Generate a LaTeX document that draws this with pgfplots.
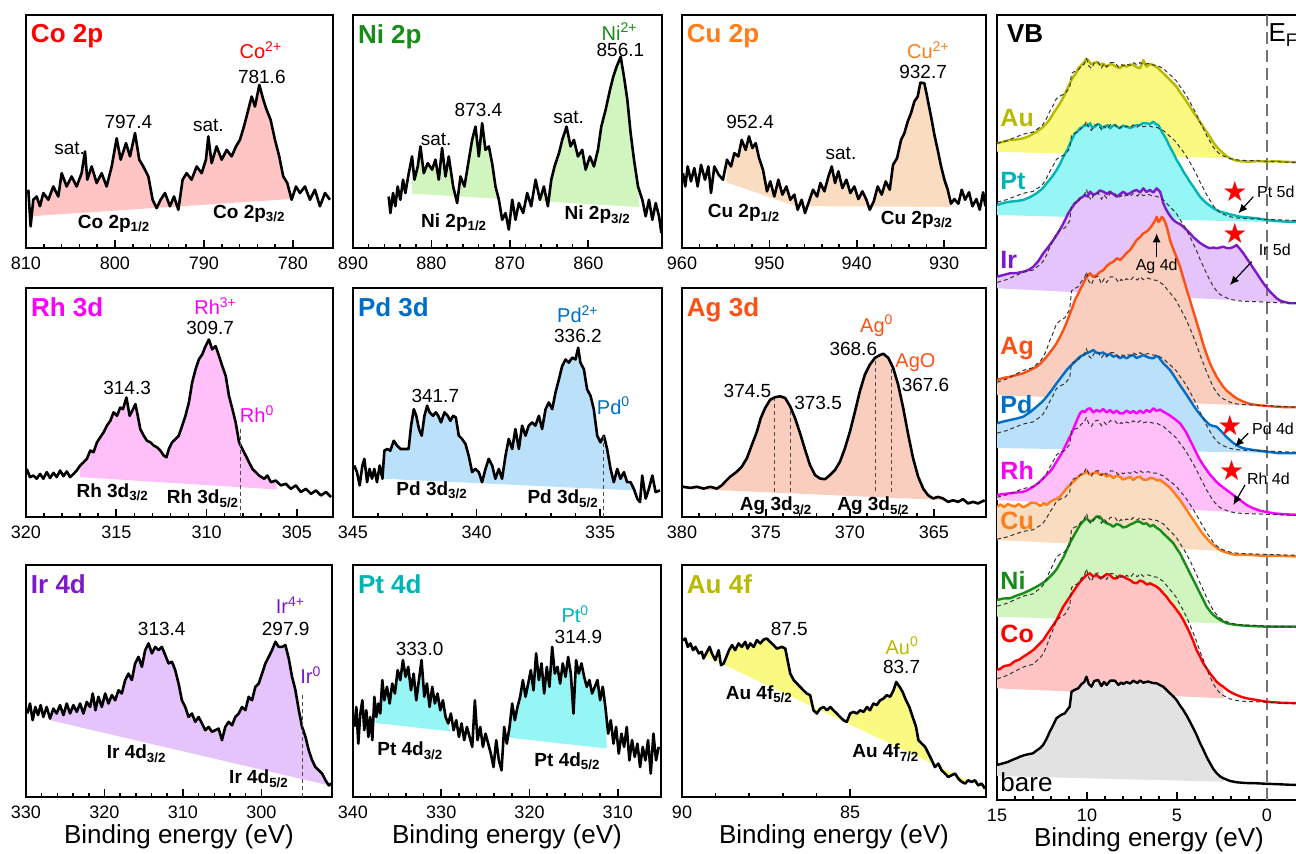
\documentclass[border=0pt]{standalone}
\usepackage{fontspec}
\setmainfont{Liberation Sans}
\newfontfamily\symfont{DejaVu Sans}
\usepackage{pgfplots}
\usepackage{pgfplotstable}
\pgfplotsset{compat=1.18}
\usetikzlibrary{arrows.meta}

\definecolor{coC}{RGB}{255,0,0}     \definecolor{coF}{RGB}{255,196,196}
\definecolor{niC}{RGB}{24,140,24}   \definecolor{niF}{RGB}{208,245,190}
\definecolor{cuC}{RGB}{255,125,25}  \definecolor{cuF}{RGB}{250,220,192}
\definecolor{rhC}{RGB}{250,0,250}   \definecolor{rhF}{RGB}{255,192,250}
\definecolor{pdC}{RGB}{0,110,200}   \definecolor{pdF}{RGB}{186,224,250}
\definecolor{agC}{RGB}{255,80,20}   \definecolor{agF}{RGB}{250,206,190}
\definecolor{irC}{RGB}{125,25,205}  \definecolor{irF}{RGB}{228,196,250}
\definecolor{ptC}{RGB}{0,180,180}   \definecolor{ptF}{RGB}{150,245,245}
\definecolor{auC}{RGB}{185,185,0}   \definecolor{auF}{RGB}{250,250,130}
\definecolor{bareF}{RGB}{226,226,226}

\pgfplotsset{
  /pgf/number format/assume math mode=true,
  xps/.style={scale only axis, anchor=south west, x dir=reverse, ymin=0, ymax=100,
    ytick=\empty, xtick pos=left, tick align=inside, minor x tick num=4,
    axis line style={line width=1.1pt}, tick style={black, line width=0.8pt},
    major tick length=4pt, minor tick length=2.2pt,
    xticklabel style={font=\fontsize{9}{10}\selectfont, yshift=-1pt},
    xlabel style={font=\fontsize{13}{15}\selectfont, yshift=4pt}},
  spec/.style={black, line width=1.3pt, line join=round},
  vbl/.style={line width=1.2pt, line join=round},
  ref/.style={black!80, line width=0.5pt, dash pattern=on 2pt off 1.5pt},
  mark0/.style={black!70, line width=0.5pt, dash pattern=on 2pt off 1.5pt},
}
\tikzset{
  num/.style={font=\fontsize{9.5}{11}\selectfont, inner sep=0pt},
  lab/.style={font=\fontsize{9.5}{11}\selectfont\bfseries, inner sep=0pt},
  ion/.style={font=\fontsize{10}{12}\selectfont, inner sep=0pt},
  ttl/.style={font=\fontsize{13}{15}\selectfont\bfseries, anchor=north west, inner sep=0pt},
  el/.style={font=\fontsize{12.5}{14}\selectfont\bfseries, anchor=base west, inner sep=0pt},
  sm/.style={font=\fontsize{8}{9}\selectfont, inner sep=0pt},
  arr/.style={-{Latex[length=4.5pt,width=4pt]}, line width=0.6pt},
}

% ---------- core level spectra ----------
\pgfplotstableread[row sep=\\]{
x y\\
809.74 25.0\\ 809.48 9.3\\ 809.18 20.7\\ 808.80 22.1\\ 808.43 17.9\\ 808.05 23.6\\ 807.49 20.7\\ 806.93 26.4\\
806.37 22.1\\ 805.99 32.1\\ 805.43 26.4\\ 804.87 30.7\\ 804.31 26.4\\ 803.75 32.1\\ 803.37 41.4\\ 803.11 29.3\\
802.62 35.0\\ 802.06 27.9\\ 801.50 32.1\\ 800.94 26.4\\ 800.37 35.0\\ 799.81 47.1\\ 799.36 37.9\\ 798.76 45.0\\
798.31 39.3\\ 797.75 49.3\\ 797.27 37.9\\ 796.82 35.0\\ 796.25 30.7\\ 795.77 20.7\\ 795.32 17.1\\ 794.87 20.7\\
794.38 23.6\\ 793.82 17.9\\ 793.37 22.1\\ 792.88 16.4\\ 792.40 29.3\\ 791.95 32.1\\ 791.39 29.3\\ 790.82 35.0\\
790.26 32.1\\ 789.78 37.9\\ 789.51 47.9\\ 789.14 36.4\\ 788.58 43.6\\ 788.01 37.9\\ 787.45 42.1\\ 786.89 39.3\\
786.40 43.6\\ 785.96 46.4\\ 785.51 52.1\\ 785.02 59.3\\ 784.64 65.0\\ 784.27 60.7\\ 783.78 70.0\\ 783.33 63.6\\
782.96 59.3\\ 782.51 55.0\\ 782.02 46.4\\ 781.54 39.3\\ 781.09 30.7\\ 780.64 27.9\\ 780.15 20.7\\ 779.66 26.4\\
779.21 23.6\\ 778.65 26.4\\ 778.09 20.7\\ 777.53 25.0\\ 776.97 17.9\\ 776.40 23.6\\ 775.84 20.7\\
}\tCo
\pgfplotstableread[row sep=\\]{
x y\\
885.45 22.1\\ 885.23 15.0\\ 884.89 23.6\\ 884.60 17.9\\ 884.30 26.4\\ 883.96 20.7\\ 883.62 29.3\\ 883.32 23.6\\
882.89 32.1\\ 882.47 39.3\\ 882.17 29.3\\ 881.74 35.0\\ 881.40 43.6\\ 880.98 32.1\\ 880.47 36.4\\ 879.91 33.6\\
879.49 37.9\\ 879.06 29.3\\ 878.64 42.9\\ 878.21 30.7\\ 877.79 39.3\\ 877.23 26.4\\ 876.72 19.3\\ 876.30 30.7\\
875.79 26.4\\ 875.23 37.9\\ 874.81 46.4\\ 874.38 52.1\\ 873.96 39.3\\ 873.53 53.6\\ 873.11 42.1\\ 872.68 43.6\\
872.26 36.4\\ 871.83 26.4\\ 871.40 20.7\\ 870.98 12.1\\ 870.55 15.0\\ 870.13 7.9\\ 869.70 20.7\\ 869.28 12.1\\
868.85 19.3\\ 868.30 15.0\\ 867.79 23.6\\ 867.28 17.9\\ 866.72 29.3\\ 866.17 20.7\\ 865.66 26.4\\ 865.15 17.9\\
864.72 29.3\\ 864.30 35.0\\ 863.74 40.7\\ 863.32 46.4\\ 862.77 52.1\\ 862.26 43.6\\ 861.83 46.4\\ 861.32 39.3\\
860.77 42.1\\ 860.34 33.6\\ 859.79 39.3\\ 859.28 35.0\\ 858.77 42.1\\ 858.34 52.1\\ 857.79 59.3\\ 857.23 67.9\\
856.81 73.6\\ 856.38 77.9\\ 855.87 82.1\\ 855.45 73.6\\ 855.02 63.6\\ 854.60 49.3\\ 854.17 37.9\\ 853.66 26.4\\
853.11 20.7\\ 852.68 13.6\\ 852.26 20.7\\ 851.83 12.1\\ 851.40 19.3\\ 850.98 13.6\\ 850.68 6.4\\
}\tNi
\pgfplotstableread[row sep=\\]{
x y\\
959.89 32.1\\ 959.62 26.4\\ 959.35 35.0\\ 958.97 28.6\\ 958.59 34.3\\ 958.21 26.4\\ 957.82 35.7\\ 957.37 29.3\\
956.98 35.0\\ 956.68 23.6\\ 956.30 35.0\\ 955.80 31.4\\ 955.31 29.3\\ 954.85 37.9\\ 954.39 35.0\\ 954.01 40.7\\
953.55 39.3\\ 953.17 46.4\\ 952.71 42.1\\ 952.33 47.9\\ 951.95 42.9\\ 951.56 45.0\\ 951.18 38.6\\ 950.73 33.6\\
950.27 24.3\\ 949.89 28.6\\ 949.43 22.1\\ 948.97 29.3\\ 948.51 22.9\\ 948.05 26.4\\ 947.60 20.7\\ 947.14 22.9\\
946.76 16.4\\ 946.30 20.7\\ 945.92 15.0\\ 945.46 20.0\\ 945.00 25.0\\ 944.54 22.1\\ 944.16 27.9\\ 943.70 24.3\\
943.24 30.7\\ 942.86 35.0\\ 942.48 27.9\\ 942.10 32.9\\ 941.64 25.7\\ 941.18 29.3\\ 940.73 23.6\\ 940.27 26.4\\
939.81 21.0\\ 939.35 24.3\\ 938.89 20.7\\ 938.51 16.4\\ 938.05 20.0\\ 937.60 26.4\\ 937.14 22.9\\ 936.68 28.6\\
936.22 25.0\\ 935.84 35.7\\ 935.38 38.6\\ 934.92 46.4\\ 934.54 49.3\\ 934.16 54.3\\ 933.78 57.9\\ 933.40 62.9\\
933.02 65.0\\ 932.71 71.0\\ 932.25 70.7\\ 931.87 63.6\\ 931.49 56.4\\ 931.11 48.6\\ 930.73 42.1\\ 930.34 35.0\\
929.96 29.3\\ 929.58 25.0\\ 929.20 19.0\\ 928.82 21.0\\ 928.36 19.0\\ 927.98 25.0\\ 927.60 20.7\\ 927.14 23.9\\
926.76 17.9\\ 926.30 21.0\\ 925.92 16.4\\ 925.53 23.9\\ 925.27 17.9\\
}\tCu
\pgfplotstableread[row sep=\\]{
x y\\
319.96 21.0\\ 319.78 17.4\\ 319.59 18.1\\ 319.41 16.7\\ 319.22 18.8\\ 319.04 16.7\\ 318.85 19.6\\ 318.67 17.0\\
318.48 19.3\\ 318.30 17.4\\ 318.11 20.3\\ 317.93 17.8\\ 317.74 19.9\\ 317.56 17.4\\ 317.37 18.8\\ 317.19 20.3\\
317.00 22.5\\ 316.81 23.9\\ 316.63 25.4\\ 316.44 29.0\\ 316.26 28.3\\ 316.07 32.6\\ 315.89 34.8\\ 315.70 37.0\\
315.52 39.9\\ 315.33 42.0\\ 315.15 45.7\\ 314.96 44.2\\ 314.78 47.8\\ 314.63 47.1\\ 314.44 52.2\\ 314.26 44.2\\
314.07 47.1\\ 313.94 49.3\\ 313.81 44.2\\ 313.67 38.4\\ 313.48 35.5\\ 313.30 33.3\\ 313.11 32.6\\ 312.93 31.2\\
312.74 30.4\\ 312.56 29.0\\ 312.37 26.8\\ 312.22 26.1\\ 312.09 29.7\\ 311.91 32.6\\ 311.72 34.1\\ 311.54 35.5\\
311.35 39.9\\ 311.17 44.2\\ 310.98 50.0\\ 310.80 58.7\\ 310.61 64.5\\ 310.43 68.8\\ 310.24 71.0\\ 310.06 74.6\\
309.87 77.5\\ 309.69 73.2\\ 309.50 74.6\\ 309.31 70.3\\ 309.13 65.9\\ 308.94 61.6\\ 308.76 52.9\\ 308.57 47.1\\
308.39 41.3\\ 308.20 32.6\\ 308.02 29.7\\ 307.83 26.8\\ 307.65 23.9\\ 307.46 21.0\\ 307.28 19.6\\ 307.09 18.1\\
306.81 16.7\\ 306.63 18.1\\ 306.44 15.2\\ 306.17 15.9\\ 305.89 13.8\\ 305.61 14.5\\ 305.33 12.3\\ 305.06 13.8\\
304.78 10.9\\ 304.50 12.3\\ 304.22 10.1\\ 303.94 11.6\\ 303.67 9.4\\ 303.39 10.9\\ 303.11 8.7\\
}\tRh
\pgfplotstableread[row sep=\\]{
x y\\
344.95 22.5\\ 344.84 19.6\\ 344.73 13.8\\ 344.62 22.5\\ 344.54 25.4\\ 344.43 15.2\\ 344.33 21.0\\ 344.23 16.7\\
344.14 21.0\\ 344.03 15.2\\ 343.92 22.5\\ 343.81 16.7\\ 343.73 29.0\\ 343.62 29.7\\ 343.49 29.0\\ 343.35 33.3\\
343.22 31.2\\ 343.08 29.7\\ 342.95 29.7\\ 342.75 29.7\\ 342.65 39.9\\ 342.54 47.1\\ 342.44 44.2\\ 342.33 38.4\\
342.22 35.5\\ 342.11 44.2\\ 342.00 48.6\\ 341.90 45.7\\ 341.76 44.2\\ 341.65 45.7\\ 341.55 44.2\\ 341.44 41.3\\
341.30 45.7\\ 341.17 44.2\\ 341.06 42.0\\ 340.95 44.2\\ 340.84 43.5\\ 340.72 35.5\\ 340.59 34.1\\ 340.45 31.9\\
340.32 26.8\\ 340.18 19.6\\ 340.05 21.0\\ 339.91 19.6\\ 339.78 15.2\\ 339.64 21.0\\ 339.51 25.4\\ 339.37 22.5\\
339.24 16.7\\ 339.10 21.0\\ 338.97 16.7\\ 338.83 26.8\\ 338.70 34.1\\ 338.56 29.7\\ 338.43 38.4\\ 338.29 29.7\\
338.16 39.9\\ 338.02 35.5\\ 337.89 39.9\\ 337.75 41.3\\ 337.62 39.9\\ 337.48 44.2\\ 337.35 38.4\\ 337.21 47.1\\
337.08 50.0\\ 336.94 47.1\\ 336.81 54.3\\ 336.67 60.1\\ 336.54 65.9\\ 336.40 68.8\\ 336.27 67.4\\ 336.13 69.6\\
336.00 68.8\\ 335.89 73.9\\ 335.80 67.4\\ 335.66 64.5\\ 335.53 55.8\\ 335.39 52.9\\ 335.26 47.1\\ 335.12 35.5\\
334.99 32.6\\ 334.85 35.5\\ 334.72 29.7\\ 334.58 21.0\\ 334.45 15.2\\ 334.31 21.0\\ 334.18 16.7\\ 334.04 19.6\\
333.91 15.2\\ 333.77 15.2\\ 333.64 12.3\\ 333.50 8.0\\ 333.39 6.5\\ 333.30 18.1\\ 333.16 8.0\\ 333.03 12.3\\
332.89 18.1\\ 332.76 10.9\\ 332.58 11.6\\
}\tPd
\pgfplotstableread[row sep=\\]{
x y\\
379.94 13.2\\ 379.50 12.7\\ 379.11 13.2\\ 378.71 12.4\\ 378.32 13.2\\ 377.92 12.4\\ 377.62 13.9\\ 377.43 15.4\\
377.13 17.6\\ 376.73 19.8\\ 376.44 22.0\\ 376.14 25.6\\ 375.84 31.5\\ 375.54 37.3\\ 375.31 43.2\\ 375.05 47.6\\
374.75 51.2\\ 374.46 52.3\\ 374.16 52.7\\ 373.86 52.0\\ 373.56 48.3\\ 373.27 43.2\\ 372.97 36.6\\ 372.67 29.3\\
372.38 22.7\\ 372.08 18.3\\ 371.78 16.8\\ 371.49 16.5\\ 371.19 18.3\\ 370.89 20.5\\ 370.59 24.2\\ 370.30 30.0\\
370.00 37.3\\ 369.70 46.1\\ 369.41 54.9\\ 369.11 62.2\\ 368.81 66.6\\ 368.51 69.5\\ 368.22 70.7\\ 368.02 71.3\\
367.72 69.5\\ 367.43 65.2\\ 367.13 57.8\\ 366.83 47.6\\ 366.53 35.9\\ 366.24 25.6\\ 365.94 17.6\\ 365.64 12.4\\
365.35 9.5\\ 365.05 8.1\\ 364.75 8.8\\ 364.46 8.1\\ 364.16 6.6\\ 363.86 7.3\\ 363.56 6.6\\ 363.27 7.8\\
362.97 5.9\\ 362.67 6.6\\ 362.38 5.9\\ 361.98 7.3\\
}\tAg
\pgfplotstableread[row sep=\\]{
x y\\
329.83 36.0\\ 329.49 40.3\\ 329.15 33.1\\ 328.81 38.8\\ 328.47 35.3\\ 328.13 39.6\\ 327.79 34.5\\ 327.36 38.8\\
326.94 33.8\\ 326.51 38.1\\ 326.09 36.0\\ 325.66 39.6\\ 325.23 35.3\\ 324.81 40.3\\ 324.38 36.0\\ 323.96 39.6\\
323.53 36.7\\ 323.11 40.3\\ 322.68 36.0\\ 322.26 41.0\\ 321.83 38.8\\ 321.49 44.6\\ 321.15 37.4\\ 320.77 43.2\\
320.34 38.8\\ 319.91 44.6\\ 319.49 40.3\\ 319.06 43.9\\ 318.64 41.7\\ 318.21 46.0\\ 317.79 44.6\\ 317.36 50.4\\
316.94 53.2\\ 316.51 50.4\\ 316.09 57.6\\ 315.66 60.4\\ 315.23 56.1\\ 314.81 63.3\\ 314.38 66.2\\ 313.96 61.9\\
313.53 64.7\\ 313.11 63.3\\ 312.68 64.7\\ 312.26 61.2\\ 311.83 57.6\\ 311.40 58.3\\ 310.98 54.7\\ 310.55 48.9\\
310.13 41.7\\ 309.70 38.8\\ 309.28 34.5\\ 308.85 36.0\\ 308.43 32.4\\ 308.00 34.5\\ 307.57 31.7\\ 307.15 28.8\\
306.72 30.2\\ 306.30 28.1\\ 305.87 28.8\\ 305.45 29.5\\ 305.02 24.5\\ 304.60 30.2\\ 304.17 32.4\\ 303.74 30.9\\
303.32 34.5\\ 302.89 36.0\\ 302.47 38.8\\ 302.04 37.4\\ 301.62 43.2\\ 301.19 41.7\\ 300.77 47.5\\ 300.34 48.9\\
299.91 53.2\\ 299.49 57.6\\ 299.06 60.4\\ 298.64 63.3\\ 298.21 66.9\\ 297.79 64.7\\ 297.36 64.7\\ 296.94 65.5\\
296.51 59.7\\ 296.09 51.8\\ 295.66 46.0\\ 295.23 37.4\\ 294.81 30.2\\ 294.38 25.9\\ 293.96 20.1\\ 293.53 15.8\\
293.11 12.9\\ 292.68 11.5\\ 292.26 10.1\\ 291.83 7.2\\ 291.40 5.0\\ 291.06 5.8\\
}\tIr
\pgfplotstableread[row sep=\\]{
x y\\
339.85 30.2\\ 339.62 38.8\\ 339.40 23.0\\ 339.17 36.0\\ 338.94 41.7\\ 338.72 28.8\\ 338.49 37.4\\ 338.26 25.9\\
338.04 34.5\\ 337.81 24.5\\ 337.58 43.2\\ 337.36 34.5\\ 337.13 40.3\\ 336.91 36.0\\ 336.68 50.4\\ 336.45 41.7\\
336.15 47.5\\ 335.85 40.3\\ 335.55 48.9\\ 335.25 44.6\\ 334.94 54.7\\ 334.64 50.4\\ 334.34 59.0\\ 334.04 51.8\\
333.74 56.1\\ 333.43 46.0\\ 333.13 53.2\\ 332.83 41.7\\ 332.53 50.4\\ 332.23 59.0\\ 331.92 43.2\\ 331.62 48.9\\
331.32 38.8\\ 331.02 47.5\\ 330.72 40.3\\ 330.42 44.6\\ 330.11 37.4\\ 329.81 41.7\\ 329.51 34.5\\ 329.21 31.7\\
328.91 36.0\\ 328.60 28.8\\ 328.30 33.1\\ 328.00 25.9\\ 327.70 31.7\\ 327.40 24.5\\ 327.09 30.2\\ 326.79 25.9\\
326.49 21.6\\ 326.19 41.7\\ 325.89 24.5\\ 325.58 30.2\\ 325.28 21.6\\ 324.98 27.3\\ 324.68 23.0\\ 324.38 18.7\\
324.08 12.9\\ 323.77 24.5\\ 323.47 15.8\\ 323.17 11.5\\ 322.87 30.2\\ 322.57 23.0\\ 322.26 30.2\\ 321.96 40.3\\
321.66 33.1\\ 321.36 38.8\\ 321.06 43.2\\ 320.75 50.4\\ 320.45 43.2\\ 320.15 48.9\\ 319.85 54.7\\ 319.55 46.0\\
319.25 61.9\\ 318.94 50.4\\ 318.64 57.6\\ 318.34 44.6\\ 318.04 56.1\\ 317.74 47.5\\ 317.43 64.7\\ 317.13 53.2\\
316.83 56.1\\ 316.53 48.9\\ 316.23 57.6\\ 315.92 51.8\\ 315.62 60.4\\ 315.32 53.2\\ 315.02 36.0\\ 314.72 59.0\\
314.42 53.2\\ 314.11 57.6\\ 313.81 51.8\\ 313.51 47.5\\ 313.21 50.4\\ 312.91 44.6\\ 312.60 47.5\\ 312.30 50.4\\
312.00 41.7\\ 311.70 47.5\\ 311.40 38.8\\ 311.09 27.3\\ 310.79 33.1\\ 310.49 23.0\\ 310.19 30.2\\ 309.89 18.7\\
309.58 27.3\\ 309.28 21.6\\ 308.98 30.2\\ 308.68 15.8\\ 308.38 24.5\\ 308.08 17.3\\ 307.77 23.0\\ 307.47 12.9\\
307.17 21.6\\ 306.87 15.8\\ 306.57 24.5\\ 306.26 10.1\\ 305.96 27.3\\ 305.66 15.8\\ 305.36 21.6\\
}\tPt
\pgfplotstableread[row sep=\\]{
x y\\
89.97 67.6\\ 89.90 68.3\\ 89.83 64.7\\ 89.75 66.2\\ 89.67 63.3\\ 89.60 64.7\\ 89.50 61.9\\ 89.41 62.6\\
89.36 59.7\\ 89.28 61.9\\ 89.18 64.7\\ 89.11 61.9\\ 89.01 59.0\\ 88.91 63.3\\ 88.84 56.8\\ 88.76 57.6\\
88.68 60.4\\ 88.60 63.3\\ 88.51 65.5\\ 88.42 63.3\\ 88.32 66.2\\ 88.22 64.7\\ 88.12 66.9\\ 88.05 64.0\\
87.97 66.2\\ 87.87 64.7\\ 87.77 67.6\\ 87.67 66.2\\ 87.57 67.9\\ 87.48 68.3\\ 87.38 66.9\\ 87.28 65.5\\
87.18 64.0\\ 87.03 64.7\\ 86.93 64.0\\ 86.86 59.0\\ 86.78 53.2\\ 86.68 50.4\\ 86.58 48.9\\ 86.49 47.5\\
86.39 46.0\\ 86.29 44.6\\ 86.19 43.9\\ 86.09 37.4\\ 85.99 36.0\\ 85.89 38.1\\ 85.79 38.8\\ 85.69 37.4\\
85.59 38.8\\ 85.50 37.4\\ 85.40 36.0\\ 85.30 34.5\\ 85.20 33.1\\ 85.10 32.4\\ 85.00 36.0\\ 84.90 36.7\\
84.80 36.0\\ 84.70 37.4\\ 84.60 36.7\\ 84.50 38.8\\ 84.41 37.4\\ 84.31 40.3\\ 84.21 39.6\\ 84.11 41.7\\
84.01 42.4\\ 83.91 43.9\\ 83.81 43.2\\ 83.71 46.0\\ 83.63 49.6\\ 83.53 47.5\\ 83.44 45.3\\ 83.34 41.7\\
83.24 38.8\\ 83.14 34.5\\ 83.04 30.2\\ 82.97 24.5\\ 82.87 23.0\\ 82.77 21.6\\ 82.67 18.7\\ 82.57 15.8\\
82.48 12.9\\ 82.38 14.4\\ 82.28 11.5\\ 82.18 10.1\\ 82.08 8.6\\ 81.98 9.4\\ 81.88 10.1\\ 81.78 7.9\\
81.68 6.5\\ 81.58 5.8\\ 81.49 7.2\\ 81.39 6.5\\ 81.29 7.2\\ 81.19 5.0\\ 81.09 5.8\\ 80.99 3.6\\
}\tAu

% ---------- valence band spectra ----------
\pgfplotstableread[row sep=\\]{
x y\\
15.00 35\\ 14.70 36.5\\ 14.40 38\\ 14.10 40.5\\ 13.92 41.7\\ 13.70 43.5\\ 13.45 45\\ 13.20 46\\ 13.00 46.7\\
12.80 49.5\\ 12.60 52\\ 12.44 55\\ 12.25 61\\ 12.07 68.3\\ 11.90 74\\ 11.70 81.7\\ 11.45 85\\ 11.23 86.7\\
11.10 90\\ 10.96 93.3\\ 10.86 108.3\\ 10.70 110\\ 10.49 111.7\\ 10.30 116\\ 10.15 118\\ 10.03 123.3\\ 9.90 116\\
9.75 113.3\\ 9.60 119\\ 9.38 120\\ 9.20 114\\ 9.05 118\\ 8.91 115\\ 8.70 119.5\\ 8.45 119.3\\ 8.25 115\\
8.10 117.5\\ 7.99 116\\ 7.80 118\\ 7.60 116.5\\ 7.43 119.3\\ 7.20 117\\ 7.05 119.5\\ 6.87 117.3\\ 6.60 118.5\\
6.35 117\\ 6.13 116.7\\ 5.95 115\\ 5.76 113.3\\ 5.55 109.5\\ 5.39 106.7\\ 5.20 103.5\\ 5.02 100\\ 4.85 95\\
4.65 90\\ 4.45 84\\ 4.28 78.3\\ 4.10 72\\ 3.91 65\\ 3.72 57\\ 3.53 50\\ 3.35 43\\ 3.16 36.7\\ 2.98 31\\
2.79 26.7\\ 2.60 23.5\\ 2.42 21.7\\ 2.05 19\\ 1.68 17.7\\ 1.20 17\\ 0.57 16.7\\ 0.00 16.2\\ -0.60 15.8\\
-1.20 15.3\\ -1.90 15\\
}\vBare
\pgfplotstableread[row sep=\\]{
x y\\
15.00 656.7\\ 14.60 658.5\\ 14.28 660\\ 13.90 660.5\\ 13.54 661.7\\ 13.20 664\\ 12.80 668.3\\ 12.50 672\\
12.24 676.7\\ 12.05 681\\ 11.87 686.7\\ 11.70 691\\ 11.50 696.7\\ 11.30 703\\ 11.13 710\\ 10.95 717\\
10.76 723.3\\ 10.60 727\\ 10.48 731.7\\ 10.35 734\\ 10.20 736.7\\ 10.05 741\\ 9.93 740\\ 9.80 736\\
9.65 736.7\\ 9.45 738\\ 9.28 735\\ 9.10 736.5\\ 8.91 733.3\\ 8.70 736\\ 8.54 735\\ 8.35 733\\ 8.17 731.7\\
8.00 735\\ 7.80 733.3\\ 7.60 735.5\\ 7.43 735\\ 7.25 733\\ 7.06 731.7\\ 6.95 736\\ 6.87 740\\ 6.75 735\\
6.69 733.3\\ 6.50 736\\ 6.31 735\\ 6.15 733\\ 6.04 731.7\\ 5.90 729\\ 5.76 726.7\\ 5.55 723\\ 5.39 720\\
5.20 716.5\\ 5.02 713.3\\ 4.85 708\\ 4.65 703.3\\ 4.45 698\\ 4.28 693.3\\ 4.10 688\\ 3.91 683.3\\ 3.72 678\\
3.54 673.3\\ 3.35 668\\ 3.17 663.3\\ 3.00 658\\ 2.80 653.3\\ 2.60 649.5\\ 2.43 646.7\\ 2.25 644\\ 2.06 641.7\\
1.69 639.3\\ 1.30 638.5\\ 0.94 638.3\\ 0.50 639\\ 0.02 638.3\\ -0.45 638.8\\ -0.91 638.3\\ -1.30 638\\ -1.90 637.7\\
}\vAu
\pgfplotstableread[row sep=\\]{
x y\\
15.00 595\\ 14.65 597\\ 14.28 598.3\\ 13.90 599\\ 13.54 600\\ 13.15 603\\ 12.80 606.7\\ 12.50 611\\ 12.24 616.7\\
11.95 623\\ 11.69 630\\ 11.50 636\\ 11.31 643.3\\ 11.10 650\\ 10.94 656.7\\ 10.80 662\\ 10.67 666.7\\ 10.50 669\\
10.39 671.7\\ 10.25 673\\ 10.11 675\\ 9.95 674\\ 9.83 676.7\\ 9.70 672\\ 9.56 673.3\\ 9.40 676\\ 9.28 675\\
9.15 672\\ 9.00 673.3\\ 8.85 675\\ 8.72 671.7\\ 8.58 674\\ 8.44 675\\ 8.30 673\\ 8.17 671.7\\ 8.00 674.5\\
7.80 673.3\\ 7.60 672\\ 7.43 673.3\\ 7.25 675\\ 7.06 675\\ 6.88 677\\ 6.69 676.7\\ 6.50 676\\ 6.31 678.3\\
6.18 676\\ 6.04 675\\ 5.95 672\\ 5.85 668.3\\ 5.70 664\\ 5.57 660\\ 5.45 655\\ 5.30 650\\ 5.15 645\\ 5.02 640\\
4.88 636\\ 4.74 631.7\\ 4.60 627\\ 4.46 623.3\\ 4.28 618\\ 4.09 613.3\\ 3.90 608\\ 3.72 603.3\\ 3.55 600\\
3.35 596.7\\ 3.15 594\\ 2.98 591.7\\ 2.80 590\\ 2.61 588.3\\ 2.42 587.5\\ 2.24 586.7\\ 2.05 585.5\\ 1.87 585\\
1.68 584\\ 1.50 583.3\\ 1.13 582.7\\ 0.57 581.7\\ 0.02 580\\ -0.54 579\\ -1.09 578.3\\ -1.90 578.3\\
}\vPt
\pgfplotstableread[row sep=\\]{
x y\\
15.00 523.3\\ 14.65 525\\ 14.28 526.7\\ 13.90 527\\ 13.54 528.3\\ 13.25 530\\ 12.98 533.3\\ 12.70 539\\
12.43 546.7\\ 12.15 553\\ 11.87 560\\ 11.65 566\\ 11.41 573.3\\ 11.22 580\\ 11.04 586.7\\ 10.85 592\\
10.67 596.7\\ 10.52 599\\ 10.39 601.7\\ 10.25 603\\ 10.11 605\\ 9.97 603.5\\ 9.83 608.3\\ 9.65 605\\
9.46 606.7\\ 9.28 609.5\\ 9.09 608.3\\ 8.90 606\\ 8.72 608.3\\ 8.55 606\\ 8.35 603.3\\ 8.15 606\\ 7.98 608.3\\
7.80 605.5\\ 7.61 606.7\\ 7.42 609\\ 7.24 610\\ 7.05 607.5\\ 6.87 611.7\\ 6.70 608\\ 6.50 610\\ 6.31 607.5\\
6.13 611.7\\ 6.03 610\\ 5.94 608.3\\ 5.85 603\\ 5.76 596.7\\ 5.62 591\\ 5.48 586.7\\ 5.34 583\\ 5.20 580\\
5.06 578\\ 4.93 576.7\\ 4.80 575.5\\ 4.65 573.3\\ 4.46 570\\ 4.28 566.7\\ 4.10 563\\ 3.91 560\\ 3.72 557\\
3.54 555\\ 3.35 553\\ 3.17 551.7\\ 2.98 552.5\\ 2.80 551.7\\ 2.61 552.5\\ 2.43 553.3\\ 2.25 552\\ 2.06 551.7\\
1.87 553\\ 1.69 555\\ 1.50 551\\ 1.31 546.7\\ 1.12 541.5\\ 0.94 536.7\\ 0.75 531.5\\ 0.57 526.7\\ 0.38 521.5\\
0.20 516.7\\ 0.02 512.5\\ -0.17 508.3\\ -0.35 505\\ -0.54 501.7\\ -0.72 499.5\\ -0.91 498.3\\ -1.28 496.7\\ -1.90 496.7\\
}\vIr
\pgfplotstableread[row sep=\\]{
x y\\
15.00 420\\ 14.65 422\\ 14.28 423.3\\ 13.90 425\\ 13.54 426.7\\ 13.15 430\\ 12.80 433.3\\ 12.50 438\\
12.24 443.3\\ 11.95 450\\ 11.69 456.7\\ 11.50 463\\ 11.31 470\\ 11.12 478\\ 10.94 486.7\\ 10.80 493\\
10.67 500\\ 10.52 505\\ 10.39 510\\ 10.25 515\\ 10.11 520\\ 9.97 524\\ 9.83 526.7\\ 9.65 523\\ 9.46 525\\
9.28 528\\ 9.09 530\\ 8.90 534\\ 8.72 536.7\\ 8.55 538\\ 8.35 541.7\\ 8.15 540\\ 7.98 543.3\\ 7.80 547\\
7.61 550\\ 7.42 555\\ 7.24 560\\ 7.05 563\\ 6.87 566.7\\ 6.72 568\\ 6.59 570\\ 6.45 573\\ 6.31 576.7\\
6.20 580\\ 6.13 583.3\\ 6.03 578\\ 5.94 580\\ 5.85 583\\ 5.76 581.7\\ 5.66 578\\ 5.57 573.3\\ 5.48 567\\
5.39 560\\ 5.25 553\\ 5.11 546.7\\ 4.97 540\\ 4.83 533.3\\ 4.70 525\\ 4.56 516.7\\ 4.42 508\\ 4.28 500\\
4.14 491.5\\ 4.00 483.3\\ 3.86 475\\ 3.72 466.7\\ 3.58 458\\ 3.44 450\\ 3.30 443\\ 3.17 436.7\\ 2.98 429.5\\
2.80 423.3\\ 2.61 418\\ 2.43 413.3\\ 2.25 409.5\\ 2.06 406.7\\ 1.87 404\\ 1.69 401.7\\ 1.50 400\\ 1.31 398.3\\
0.94 396\\ 0.57 395\\ 0.02 394\\ -0.54 393.3\\ -1.09 392.7\\ -1.90 392.7\\
}\vAg
\pgfplotstableread[row sep=\\]{
x y\\
15.00 376.7\\ 14.65 378.5\\ 14.28 380\\ 13.90 381.5\\ 13.54 383.3\\ 13.15 388\\ 12.80 393.3\\ 12.50 398\\
12.24 403.3\\ 11.95 410\\ 11.69 416.7\\ 11.40 423.5\\ 11.13 430\\ 10.95 433.5\\ 10.76 436.7\\ 10.58 440\\
10.39 443.3\\ 10.20 445\\ 10.02 446.7\\ 9.85 448\\ 9.65 450\\ 9.45 447\\ 9.28 446.7\\ 9.10 447.5\\ 8.91 445\\
8.72 446\\ 8.54 443.3\\ 8.35 444.5\\ 8.17 441.7\\ 8.00 443.5\\ 7.80 441.7\\ 7.60 444\\ 7.43 445\\ 7.25 442\\
7.06 443.3\\ 6.88 445\\ 6.69 443.3\\ 6.50 442\\ 6.31 441.7\\ 6.15 444\\ 6.04 443.3\\ 5.90 440\\ 5.76 436.7\\
5.58 433.5\\ 5.39 430\\ 5.20 425\\ 5.02 420\\ 4.84 415\\ 4.65 410\\ 4.46 405\\ 4.28 400\\ 4.10 395\\ 3.91 390\\
3.72 385.5\\ 3.54 381.7\\ 3.35 378\\ 3.17 375\\ 2.98 374\\ 2.80 373.3\\ 2.61 370\\ 2.43 366.7\\ 2.25 363\\
2.06 360\\ 1.87 357\\ 1.69 355\\ 1.50 353\\ 1.31 351.7\\ 0.76 350\\ 0.02 348.3\\ -0.72 346.7\\ -1.90 346.7\\
}\vPd
\pgfplotstableread[row sep=\\]{
x y\\
15.00 305\\ 14.65 306\\ 14.28 306.7\\ 13.90 307.5\\ 13.54 308.3\\ 13.25 310.5\\ 12.98 313.3\\ 12.70 317\\
12.43 321.7\\ 12.25 325\\ 12.06 328.3\\ 11.87 333\\ 11.69 338.3\\ 11.55 342.5\\ 11.41 346.7\\ 11.27 351.5\\
11.13 356.7\\ 10.99 362\\ 10.85 366.7\\ 10.76 371\\ 10.67 375\\ 10.53 381\\ 10.39 386.7\\ 10.25 389\\
10.11 388\\ 9.97 391\\ 9.83 391.7\\ 9.65 387.5\\ 9.46 390\\ 9.28 388.3\\ 9.10 391\\ 8.91 387.5\\ 8.72 390\\
8.54 387\\ 8.35 389.5\\ 8.17 386.5\\ 7.98 386.7\\ 7.80 389.5\\ 7.61 387\\ 7.43 389\\ 7.24 386.5\\ 7.06 389.5\\
6.87 387\\ 6.69 390\\ 6.50 388\\ 6.31 391.7\\ 6.13 389\\ 5.94 390.5\\ 5.76 388.3\\ 5.53 386\\ 5.30 383.3\\
5.06 380\\ 4.83 376.7\\ 4.65 372\\ 4.46 366.7\\ 4.28 360\\ 4.09 353.3\\ 3.91 346.5\\ 3.72 340\\ 3.54 335\\
3.35 330\\ 3.17 325.5\\ 2.98 321.7\\ 2.80 318\\ 2.61 315\\ 2.43 312.5\\ 2.24 310\\ 2.06 307.5\\ 1.87 305\\
1.69 302.5\\ 1.50 300\\ 1.31 297.5\\ 1.13 295\\ 0.94 293.2\\ 0.76 291.7\\ 0.57 290.5\\ 0.39 289.3\\ 0.02 288\\
-0.35 286.7\\ -0.90 285.8\\ -1.90 285\\
}\vRh
\pgfplotstableread[row sep=\\]{
x y\\
15.00 293.3\\ 14.80 295.5\\ 14.60 293\\ 14.40 296\\ 14.28 295\\ 14.00 293.5\\ 13.80 296\\ 13.54 292.7\\
13.30 295\\ 13.10 297.5\\ 12.80 296.7\\ 12.60 294\\ 12.40 297\\ 12.24 295\\ 12.05 298\\ 11.87 300\\ 11.70 301\\
11.50 303.3\\ 11.30 308\\ 11.13 311.7\\ 10.95 315\\ 10.76 318.3\\ 10.60 321\\ 10.39 325\\ 10.20 326\\
10.02 328.3\\ 9.85 325.5\\ 9.65 326.7\\ 9.45 328\\ 9.28 325\\ 9.10 326\\ 8.91 323.3\\ 8.72 325\\ 8.54 321.7\\
8.35 324.5\\ 8.17 323.3\\ 8.00 320.5\\ 7.80 321.7\\ 7.60 323\\ 7.43 320\\ 7.25 322.5\\ 7.06 323.3\\ 6.88 320.5\\
6.69 320\\ 6.50 322\\ 6.31 321.7\\ 6.10 319.5\\ 5.94 320\\ 5.75 317.5\\ 5.57 315\\ 5.38 312\\ 5.20 308.3\\
5.02 304\\ 4.83 300\\ 4.65 295\\ 4.46 290\\ 4.28 285\\ 4.09 280\\ 3.90 275\\ 3.72 270\\ 3.53 265.5\\ 3.35 261.7\\
3.17 258\\ 2.98 255\\ 2.80 252.5\\ 2.61 250\\ 2.42 248.5\\ 2.24 247.3\\ 1.96 246\\ 1.69 245\\ 1.30 245.5\\
0.94 245\\ 0.50 244.5\\ 0.02 244\\ -0.45 244.3\\ -0.91 244\\ -1.30 243.8\\ -1.90 243.3\\
}\vCu
\pgfplotstableread[row sep=\\]{
x y\\
15.00 200\\ 14.65 201.5\\ 14.28 201.7\\ 13.90 204.5\\ 13.54 206.7\\ 13.15 210\\ 12.80 213.3\\ 12.50 216.5\\
12.24 220\\ 12.05 223.5\\ 11.87 226.7\\ 11.68 231\\ 11.50 236.7\\ 11.30 243\\ 11.13 250\\ 10.95 257\\
10.76 263.3\\ 10.58 269\\ 10.39 275\\ 10.20 279\\ 10.02 281.7\\ 9.85 278.5\\ 9.65 280\\ 9.48 283.5\\ 9.28 283.3\\
9.10 279\\ 8.91 276.7\\ 8.72 275.5\\ 8.54 273.3\\ 8.35 276\\ 8.17 275\\ 8.00 272.5\\ 7.80 273.3\\ 7.60 275.5\\
7.43 276.7\\ 7.25 278.5\\ 7.06 278.3\\ 6.88 276\\ 6.69 276.7\\ 6.50 273.5\\ 6.31 275\\ 6.12 272\\ 5.94 270\\
5.76 266.5\\ 5.57 263.3\\ 5.38 260\\ 5.20 256.7\\ 5.02 251.5\\ 4.83 246.7\\ 4.65 240\\ 4.46 233.3\\ 4.28 226.7\\
4.09 220\\ 3.90 213.3\\ 3.72 206.7\\ 3.53 200\\ 3.35 193.3\\ 3.17 189\\ 2.98 185\\ 2.80 182.5\\ 2.61 180\\
2.42 178.3\\ 2.24 176.7\\ 1.96 175.8\\ 1.69 175\\ 0.94 174\\ 0.02 173.3\\ -0.91 173.3\\ -1.90 173.3\\
}\vNi
\pgfplotstableread[row sep=\\]{
x y\\
15.00 130\\ 14.80 131.5\\ 14.60 134\\ 14.28 135\\ 14.00 139\\ 13.80 140\\ 13.54 143.3\\ 13.30 146\\ 12.98 150\\
12.70 155\\ 12.43 160\\ 12.25 165\\ 12.06 170\\ 11.87 175\\ 11.69 180\\ 11.50 187\\ 11.32 193.3\\ 11.13 198.5\\
10.95 203.3\\ 10.76 208.5\\ 10.58 213.3\\ 10.39 218\\ 10.20 221.7\\ 10.02 225\\ 9.83 226.7\\ 9.65 223.5\\
9.46 225\\ 9.28 222\\ 9.09 223.3\\ 8.90 226\\ 8.72 225\\ 8.53 221.5\\ 8.35 221.7\\ 8.17 224.5\\ 7.98 223.3\\
7.80 221.5\\ 7.61 220\\ 7.43 217.5\\ 7.24 216.7\\ 7.06 219.5\\ 6.87 218.3\\ 6.68 215.5\\ 6.50 216.7\\ 6.31 215\\
6.13 213.3\\ 5.94 210.5\\ 5.76 206.7\\ 5.57 203\\ 5.39 198.3\\ 5.20 194.5\\ 5.02 190\\ 4.83 185.5\\ 4.65 180\\
4.46 173.5\\ 4.28 166.7\\ 4.09 158.5\\ 3.91 150\\ 3.72 143.5\\ 3.54 136.7\\ 3.35 131.5\\ 3.17 126.7\\ 2.98 122.5\\
2.80 118.3\\ 2.61 115.5\\ 2.43 113.3\\ 2.24 110.5\\ 2.06 108.3\\ 1.87 106.5\\ 1.69 105\\ 1.40 103\\ 1.13 101.7\\
0.57 100\\ 0.02 98.3\\ -0.72 97.3\\ -1.90 96.7\\
}\vCo

\begin{document}
\begin{tikzpicture}

% ===== row 1 =====
\begin{axis}[xps, at={(13pt,-124pt)}, width=153.5pt, height=116.5pt,
  xmin=775.5, xmax=810, xtick={780,790,800,810}]
  \addplot[fill=coF, draw=none, restrict x to domain=780.3:809.7] table {\tCo}
    -- (axis cs:780.3,21.0) -- (axis cs:809.7,13.6) -- cycle;
  \addplot[spec] table {\tCo};
  \node[ttl, text=coC] at (rel axis cs:0.015,0.96) {Co 2p};
  \node[ion, text=coC] at (axis cs:783.6,85) {Co\textsuperscript{2+}};
  \node[num] at (axis cs:783.5,73.6) {781.6};
  \node[num] at (axis cs:798.5,54.3) {797.4};
  \node[num] at (axis cs:805.1,42.7) {sat.};
  \node[num] at (axis cs:789.5,52.4) {sat.};
  \node[lab] at (axis cs:800.1,10.4) {Co 2p\textsubscript{1/2}};
  \node[lab] at (axis cs:784.9,14.7) {Co 2p\textsubscript{3/2}};
\end{axis}

\begin{axis}[xps, at={(176.5pt,-124pt)}, width=154.5pt, height=116.5pt,
  xmin=850.6, xmax=890, xtick={860,870,880,890}]
  \addplot[fill=niF, draw=none, restrict x to domain=871.6:882.5] table {\tNi}
    -- (axis cs:871.6,21.2) -- (axis cs:882.5,23.3) -- cycle;
  \addplot[fill=niF, draw=none, restrict x to domain=853.5:866.1] table {\tNi}
    -- (axis cs:853.5,17.6) -- (axis cs:866.1,20.1) -- cycle;
  \addplot[spec] table {\tNi};
  \node[ttl, text=niC] at (rel axis cs:0.015,0.96) {Ni 2p};
  \node[ion, text=niC] at (axis cs:856.0,92.9) {Ni\textsuperscript{2+}};
  \node[num] at (axis cs:855.9,85) {856.1};
  \node[num] at (axis cs:874.0,59.3) {873.4};
  \node[num] at (axis cs:879.4,46.7) {sat.};
  \node[num] at (axis cs:862.5,56.1) {sat.};
  \node[lab] at (axis cs:877.1,11) {Ni 2p\textsubscript{1/2}};
  \node[lab] at (axis cs:858.8,14.3) {Ni 2p\textsubscript{3/2}};
\end{axis}

\begin{axis}[xps, at={(341pt,-124pt)}, width=152pt, height=116.5pt,
  xmin=925.2, xmax=960, xtick={930,940,950,960}]
  \addplot[fill=cuF, draw=none, restrict x to domain=929.2:954.85] table {\tCu}
    -- (axis cs:929.2,17.6) -- (axis cs:947.0,18.0) -- (axis cs:954.85,28.1) -- cycle;
  \addplot[spec] table {\tCu};
  \node[ttl, text=cuC] at (rel axis cs:0.015,0.96) {Cu 2p};
  \node[ion, text=cuC] at (axis cs:931.8,85) {Cu\textsuperscript{2+}};
  \node[num] at (axis cs:932.4,75.7) {932.7};
  \node[num] at (axis cs:952.2,54.3) {952.4};
  \node[num] at (axis cs:941.8,40.4) {sat.};
  \node[lab] at (axis cs:952.9,15) {Cu 2p\textsubscript{1/2}};
  \node[lab] at (axis cs:933.1,12.1) {Cu 2p\textsubscript{3/2}};
\end{axis}

% ===== row 2 =====
\begin{axis}[xps, at={(13pt,-258.5pt)}, width=153.5pt, height=114.5pt,
  xmin=303.0, xmax=320, xtick={305,310,315,320}]
  \addplot[fill=rhF, draw=none, restrict x to domain=306.1:317.0] table {\tRh}
    -- (axis cs:306.1,12.0) -- (axis cs:317.0,17.4) -- cycle;
  \addplot[spec] table {\tRh};
  \addplot[mark0] coordinates {(308.1,0) (308.1,38.4)};
  \node[ttl, text=rhC] at (rel axis cs:0.015,0.96) {Rh 3d};
  \node[ion, text=rhC] at (axis cs:309.5,92) {Rh\textsuperscript{3+}};
  \node[num] at (axis cs:309.8,82.6) {309.7};
  \node[num] at (axis cs:314.4,56.5) {314.3};
  \node[ion, text=rhC] at (axis cs:307.2,44.9) {Rh\textsuperscript{0}};
  \node[lab] at (axis cs:315.2,10.9) {Rh 3d\textsubscript{3/2}};
  \node[lab] at (axis cs:310.2,8) {Rh 3d\textsubscript{5/2}};
\end{axis}

\begin{axis}[xps, at={(176.5pt,-258.5pt)}, width=154.5pt, height=114.5pt,
  xmin=332.5, xmax=345, xtick={335,340,345}]
  \addplot[fill=pdF, draw=none, restrict x to domain=333.64:343.76] table {\tPd}
    -- (axis cs:333.64,11.6) -- (axis cs:343.76,16.7) -- cycle;
  \addplot[spec] table {\tPd};
  \addplot[mark0] coordinates {(334.88,0) (334.88,35.5)};
  \node[ttl, text=pdC] at (rel axis cs:0.015,0.96) {Pd 3d};
  \node[ion, text=pdC] at (axis cs:335.9,88.4) {Pd\textsuperscript{2+}};
  \node[num] at (axis cs:335.9,79) {336.2};
  \node[num] at (axis cs:341.67,52.9) {341.7};
  \node[ion, text=pdC] at (axis cs:334.46,48.6) {Pd\textsuperscript{0}};
  \node[lab] at (axis cs:341.8,11.6) {Pd 3d\textsubscript{3/2}};
  \node[lab] at (axis cs:336.5,8) {Pd 3d\textsubscript{5/2}};
\end{axis}

\begin{axis}[xps, at={(341pt,-258.5pt)}, width=152pt, height=114.5pt,
  xmin=361.9, xmax=380, xtick={365,370,375,380}]
  \addplot[fill=agF, draw=none, restrict x to domain=361.98:379.94] table {\tAg}
    -- (axis cs:361.98,6.6) -- (axis cs:379.94,12.4) -- cycle;
  \addplot[spec] table {\tAg};
  \addplot[mark0] coordinates {(374.51,11) (374.51,51.7)};
  \addplot[mark0] coordinates {(373.52,11) (373.52,47.6)};
  \addplot[mark0] coordinates {(368.48,11.5) (368.48,68.8)};
  \addplot[mark0] coordinates {(367.52,11) (367.52,65.2)};
  \node[ttl, text=agC] at (rel axis cs:0.015,0.96) {Ag 3d};
  \node[ion, text=agC] at (axis cs:368.4,83.5) {Ag\textsuperscript{0}};
  \node[num] at (axis cs:369.8,73.2) {368.6};
  \node[ion, text=agC] at (axis cs:366.1,67.3) {AgO};
  \node[num] at (axis cs:365.5,57.8) {367.6};
  \node[num] at (axis cs:376.1,54.9) {374.5};
  \node[num] at (axis cs:371.9,49.8) {373.5};
  \node[lab] at (axis cs:374.4,4.8) {Ag 3d\textsubscript{3/2}};
  \node[lab] at (axis cs:368.6,4.8) {Ag 3d\textsubscript{5/2}};
\end{axis}

% ===== row 3 =====
\begin{axis}[xps, at={(13pt,-398.5pt)}, width=153pt, height=116pt,
  xmin=291.0, xmax=330, xtick={300,310,320,330}, xlabel={Binding energy (eV)}]
  \addplot[fill=irF, draw=none, restrict x to domain=291.4:326.94] table {\tIr}
    -- (axis cs:291.4,5.0) -- (axis cs:326.94,33.1) -- cycle;
  \addplot[spec] table {\tIr};
  \addplot[mark0] coordinates {(294.81,0) (294.81,44.6)};
  \node[ttl, text=irC] at (rel axis cs:0.015,0.96) {Ir 4d};
  \node[ion, text=irC] at (axis cs:296.3,82.7) {Ir\textsuperscript{4+}};
  \node[num] at (axis cs:296.9,72.4) {297.9};
  \node[num] at (axis cs:312.7,72.4) {313.4};
  \node[ion, text=irC] at (axis cs:293.7,52.5) {Ir\textsuperscript{0}};
  \node[lab] at (axis cs:315.9,18.7) {Ir 4d\textsubscript{3/2}};
  \node[lab] at (axis cs:300.3,7.9) {Ir 4d\textsubscript{5/2}};
\end{axis}

\begin{axis}[xps, at={(176.5pt,-398.5pt)}, width=154pt, height=116pt,
  xmin=305.1, xmax=340, xtick={310,320,330,340}, xlabel={Binding energy (eV)}]
  \addplot[fill=ptF, draw=none, restrict x to domain=328.98:337.47] table {\tPt}
    -- (axis cs:328.98,28.3) -- (axis cs:337.47,31.9) -- cycle;
  \addplot[fill=ptF, draw=none, restrict x to domain=311.25:322.38] table {\tPt}
    -- (axis cs:311.25,20.9) -- (axis cs:322.38,25.6) -- cycle;
  \addplot[spec] table {\tPt};
  \node[ttl, text=ptC] at (rel axis cs:0.015,0.96) {Pt 4d};
  \node[ion, text=ptC] at (axis cs:314.8,78.8) {Pt\textsuperscript{0}};
  \node[num] at (axis cs:314.45,69.1) {314.9};
  \node[num] at (axis cs:332.45,64) {333.0};
  \node[lab] at (axis cs:333.5,19.9) {Pt 4d\textsubscript{3/2}};
  \node[lab] at (axis cs:315.7,15.5) {Pt 4d\textsubscript{5/2}};
\end{axis}

\begin{axis}[xps, at={(341pt,-398.5pt)}, width=152pt, height=116pt,
  xmin=80.96, xmax=90, xtick={85,90}, xlabel={Binding energy (eV)}]
  \addplot[fill=auF, draw=none, restrict x to domain=80.99:89.36] table {\tAu}
    -- (axis cs:80.99,3.6) -- (axis cs:89.36,61.2) -- cycle;
  \addplot[spec] table {\tAu};
  \node[ttl, text=auC] at (rel axis cs:0.015,0.96) {Au 4f};
  \node[num] at (axis cs:86.81,72.4) {87.5};
  \node[ion, text=auC] at (axis cs:83.45,65.2) {Au\textsuperscript{0}};
  \node[num] at (axis cs:83.47,56.1) {83.7};
  \node[lab] at (axis cs:87.70,44.3) {Au 4f\textsubscript{5/2}};
  \node[lab] at (axis cs:83.94,19.1) {Au 4f\textsubscript{7/2}};
\end{axis}

% ===== valence band =====
\begin{axis}[xps, at={(498.5pt,-400pt)}, width=152pt, height=392.5pt,
  xmin=-1.89, xmax=15, ymin=0, ymax=785, xtick={0,5,10,15},
  xlabel={Binding energy (eV)}]
  \addplot[fill=auF, draw=none, restrict x to domain=2.4:15] table {\vAu}
    -- (axis cs:2.4,641.7) -- (axis cs:15,648.3) -- cycle;
  \addplot[fill=ptF, draw=none] table {\vPt}
    -- (axis cs:-1.9,577) -- (axis cs:15,585) -- cycle;
  \addplot[fill=irF, draw=none] table {\vIr}
    -- (axis cs:-1.9,496.5) -- (axis cs:15,511.7) -- cycle;
  \addplot[fill=agF, draw=none, restrict x to domain=0.5:15] table {\vAg}
    -- (axis cs:0.5,394) -- (axis cs:15,405) -- cycle;
  \addplot[fill=pdF, draw=none] table {\vPd}
    -- (axis cs:-1.9,346.5) -- (axis cs:15,352) -- cycle;
  \addplot[fill=rhF, draw=none] table {\vRh}
    -- (axis cs:-1.9,284.5) -- (axis cs:15,300) -- cycle;
  \addplot[fill=cuF, draw=none, restrict x to domain=2.4:15] table {\vCu}
    -- (axis cs:2.4,249) -- (axis cs:15,260) -- cycle;
  \addplot[fill=niF, draw=none, restrict x to domain=2.4:15] table {\vNi}
    -- (axis cs:2.4,176.7) -- (axis cs:15,183.3) -- cycle;
  \addplot[fill=coF, draw=none, restrict x to domain=2.4:15] table {\vCo}
    -- (axis cs:2.4,101.7) -- (axis cs:15,111.7) -- cycle;
  \addplot[fill=bareF, draw=none, restrict x to domain=2.4:15] table {\vBare}
    -- (axis cs:2.4,18.3) -- (axis cs:15,24) -- cycle;
  \addplot[black!55, line width=1pt, dash pattern=on 6pt off 3pt] coordinates {(0,0) (0,785)};
  % solid spectra with the bare reference (dashed) laid over each
  \addplot[vbl, color=auC] table {\vAu};
  \addplot[ref] table[y expr=623.2+0.956*\thisrow{y}] {\vBare};
  \addplot[vbl, color=ptC] table {\vPt};
  \addplot[ref] table[y expr=565.8+0.916*\thisrow{y}] {\vBare};
  \addplot[vbl, color=irC] table {\vIr};
  \addplot[ref] table[y expr=480.7+1.054*\thisrow{y}] {\vBare};
  \addplot[vbl, color=agC] table {\vAg};
  \addplot[ref] table[y expr=374+1.248*\thisrow{y}] {\vBare};
  \addplot[vbl, color=pdC] table {\vPd};
  \addplot[ref] table[y expr=333.5+0.953*\thisrow{y}] {\vBare};
  \addplot[vbl, color=rhC] table {\vRh};
  \addplot[ref] table[y expr=271+0.906*\thisrow{y}] {\vBare};
  \addplot[vbl, color=cuC] table {\vCu};
  \addplot[ref] table[y expr=232.5+0.808*\thisrow{y}] {\vBare};
  \addplot[vbl, color=niC] table {\vNi};
  \addplot[ref] table[y expr=157+1.051*\thisrow{y}] {\vBare};
  \addplot[vbl, color=coC] table {\vCo};
  \addplot[ref] table[y expr=77.4+1.247*\thisrow{y}] {\vBare};
  \addplot[vbl, black] table {\vBare};
  \addplot[only marks, mark=text,
    text mark={\textcolor{red}{\fontsize{14}{14}\selectfont\symfont ★}}]
    coordinates {(1.78,608.3) (1.78,566.7) (2.06,375) (1.96,330)};
  \draw[arr] (axis cs:0.76,603.3) -- (axis cs:1.59,586.7);
  \draw[arr] (axis cs:0.85,538.3) -- (axis cs:2.06,515);
  \draw[arr] (axis cs:6.13,543.3) -- (axis cs:6.13,566.7);
  \draw[arr] (axis cs:1.04,366.7) -- (axis cs:1.78,353.3);
  \draw[arr] (axis cs:1.22,315) -- (axis cs:1.87,295);
  \node[sm, anchor=west] at (axis cs:0.57,608.3) {Pt 5d};
  \node[sm, anchor=west] at (axis cs:0.48,550) {Ir 5d};
  \node[sm] at (axis cs:6.13,533.3) {Ag 4d};
  \node[sm, anchor=west] at (axis cs:0.85,371.7) {Pd 4d};
  \node[sm, anchor=west] at (axis cs:1.13,321.7) {Rh 4d};
  \node[font=\fontsize{13}{15}\selectfont\bfseries, anchor=north west, inner sep=0pt] at (axis cs:14.46,776) {VB};
  \node[font=\fontsize{13}{15}\selectfont, anchor=west, inner sep=0pt] at (axis cs:-0.07,765) {E\textsubscript{F}};
  \node[el, text=auC] at (axis cs:14.83,673.3) {Au};
  \node[el, text=ptC] at (axis cs:14.83,610.7) {Pt};
  \node[el, text=irC] at (axis cs:14.83,531.7) {Ir};
  \node[el, text=agC] at (axis cs:14.83,445) {Ag};
  \node[el, text=pdC] at (axis cs:14.83,386) {Pd};
  \node[el, text=rhC] at (axis cs:14.83,320.7) {Rh};
  \node[el, text=cuC] at (axis cs:14.83,270) {Cu};
  \node[el, text=niC] at (axis cs:14.83,210) {Ni};
  \node[el, text=coC] at (axis cs:14.83,157.3) {Co};
  \node[font=\fontsize{13}{15}\selectfont, anchor=base west, inner sep=0pt] at (axis cs:14.83,8.3) {bare};
\end{axis}

\pgfresetboundingbox
\path[use as bounding box] (0,0) rectangle (648pt,-427pt);
\end{tikzpicture}
\end{document}
